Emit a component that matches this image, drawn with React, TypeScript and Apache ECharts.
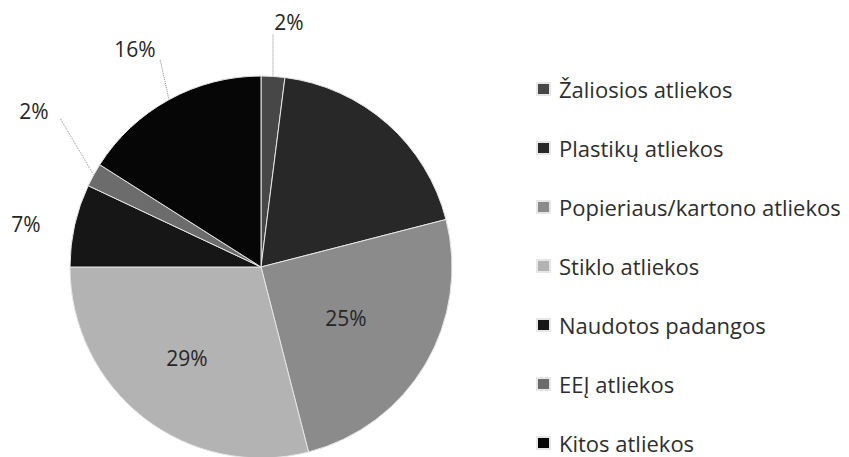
import React, { useEffect, useRef } from 'react';
import * as echarts from 'echarts';

const categories = [
  'Žaliosios atliekos',
  'Plastikų atliekos',
  'Popieriaus/kartono atliekos',
  'Stiklo atliekos',
  'Naudotos padangos',
  'EEĮ atliekos',
  'Kitos atliekos',
];
const shares = [2, 19, 25, 29, 7, 2, 16];
const sliceColors = ['#474747', '#282828', '#8b8b8b', '#b3b3b3', '#161616', '#6c6c6c', '#060606'];
const labelPlacement = ['outside', 'hidden', 'inside', 'inside', 'outside', 'outside', 'outside'];

// label layout targets (pixel centres) and leader end points
const labelTargets: Record<number, { c: [number, number]; end?: [number, number] }> = {
  0: { c: [289, 22], end: [273, 34] },
  2: { c: [346, 318] },
  3: { c: [187, 358] },
  4: { c: [26, 224] },
  5: { c: [34, 111], end: [60, 118] },
  6: { c: [135, 49], end: [160, 59] },
};

export default function App() {
  const ref = useRef<HTMLDivElement>(null);
  useEffect(() => {
    document.body.style.margin = '0';
    const chart = echarts.init(ref.current!, null, { renderer: 'svg' });
    const data = categories.map((name, i) => ({
      name,
      value: shares[i],
      itemStyle: { color: sliceColors[i] },
      label: {
        show: labelPlacement[i] !== 'hidden',
        position: labelPlacement[i] === 'inside' ? 'inside' : 'outside',
      },
      labelLine: { show: labelPlacement[i] === 'outside' && i !== 4 },
    }));
    chart.setOption({
      animation: false,
      backgroundColor: '#ffffff',
      legend: {
        orient: 'vertical',
        left: 536,
        top: 78,
        padding: 0,
        icon: 'rect',
        itemWidth: 13,
        itemHeight: 12,
        itemGap: 37,
        selectedMode: false,
        data: categories,
        textStyle: {
          fontFamily: 'Open Sans',
          fontSize: 22,
          lineHeight: 21,
          color: '#2e2e2e',
          padding: [0, 0, 0, 4],
        },
      },
      series: [
        {
          type: 'pie',
          center: [261, 267],
          radius: 191,
          startAngle: 90,
          clockwise: true,
          avoidLabelOverlap: false,
          data,
          itemStyle: { borderColor: '#e6e6e6', borderWidth: 1 },
          label: {
            formatter: (p: any) => p.value + '%',
            fontFamily: 'Open Sans',
            fontSize: 21,
            color: '#262626',
          },
          labelLine: {
            length: 20,
            length2: 0,
            lineStyle: { color: '#8a8a8a', type: 'dotted', width: 1 },
          },
          labelLayout: (params: any) => {
            const t = labelTargets[params.dataIndex];
            if (!t) return {};
            const res: any = {
              x: t.c[0],
              y: t.c[1],
              align: 'center',
              verticalAlign: 'middle',
            };
            if (t.end && params.labelLinePoints && params.labelLinePoints.length) {
              res.labelLinePoints = [params.labelLinePoints[0], t.end, t.end];
            }
            return res;
          },
        },
      ],
    });
    return () => chart.dispose();
  }, []);
  return <div ref={ref} style={{ width: 849, height: 457 }} />;
}
